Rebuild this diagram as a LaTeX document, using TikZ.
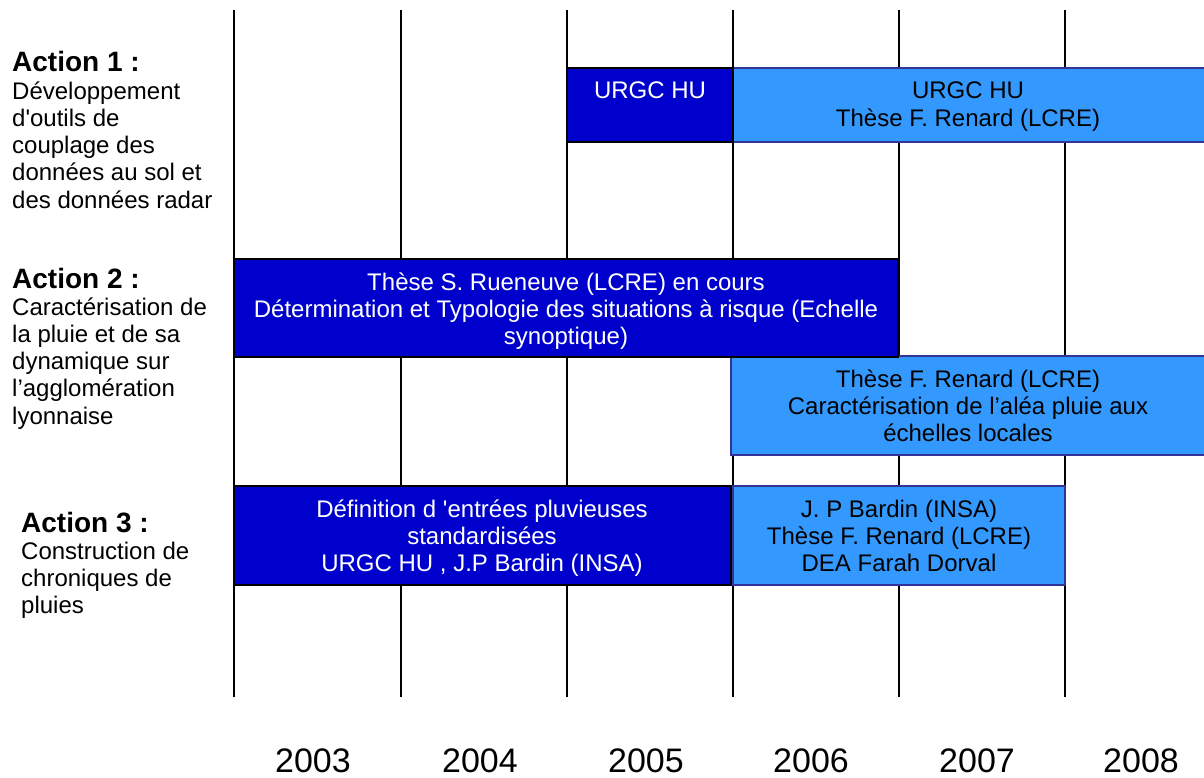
\documentclass[tikz,border=0pt]{standalone}
\usepackage{fontspec}
\setmainfont{Liberation Sans}
\definecolor{darkbar}{HTML}{0000CC}
\definecolor{lightbar}{HTML}{3399FF}
\definecolor{lightedge}{HTML}{333399}
\begin{document}
\begin{tikzpicture}[x=1pt, y=-1pt,
  txt/.style={font=\fontsize{24}{27.3}\selectfont, inner sep=0, anchor=base, align=center},
  title/.style={font=\fontsize{28}{30}\selectfont\bfseries, inner sep=0, anchor=base west},
  desc/.style={font=\fontsize{24}{27.3}\selectfont, inner sep=0, anchor=base west, align=left},
  darkbox/.style={fill=darkbar, draw=black, line width=2pt},
  lightbox/.style={fill=lightbar, draw=lightedge, line width=2pt},
  year/.style={font=\fontsize{34}{40}\selectfont, inner sep=0, anchor=base}]
\useasboundingbox (0,0) rectangle (1204,778);
% year grid
\foreach \x in {234,401,567,733,899,1065}
  \draw[line width=1.8pt] (\x,10) -- (\x,697);
\foreach \y/\x in {2003/313,2004/480,2005/646,2006/811,2007/977,2008/1141}
  \node[year] (y\y) at (\x,772) {\y};
% action 1 (base = last line)
\draw[lightbox] (733,68) rectangle (1210,142);
\draw[darkbox] (567,68) rectangle (733,142);
\node[txt, white] (u1) at (650,99) {URGC HU};
\node[txt] (u2) at (968,126.3) {URGC HU\\Thèse F. Renard (LCRE)};
% action 2
\draw[lightbox] (731,356) rectangle (1210,455);
\draw[darkbox] (234,259) rectangle (898,357);
\node[txt, white] (r1) at (566,344.6) {Thèse S. Rueneuve (LCRE) en cours\\Détermination et Typologie des situations à risque (Echelle\\synoptique)};
\node[txt] (r2) at (968,441.6) {Thèse F. Renard (LCRE)\\Caractérisation de l’aléa pluie aux\\échelles locales};
% action 3
\draw[lightbox] (733,486) rectangle (1065,585);
\draw[darkbox] (234,486) rectangle (731,585);
\node[txt, white] (c1) at (482,571.6) {Définition d \textquotesingle entrées pluvieuses\\standardisées\\URGC HU , J.P Bardin (INSA)};
\node[txt] (c2) at (899,571.6) {J. P Bardin (INSA)\\Thèse F. Renard (LCRE)\\DEA Farah Dorval};
% left column
\node[title] (a1) at (12,72) {Action 1 :};
\node[desc] (d1) at (12,208.2) {Développement\\d\textquotesingle outils de\\couplage des\\données au sol et\\des données radar};
\node[title] (a2) at (12,288) {Action 2 :};
\node[desc] (d2) at (12,424.2) {Caractérisation de\\la pluie et de sa\\dynamique sur\\l’agglomération\\lyonnaise};
\node[title] (a3) at (21,532) {Action 3 :};
\node[desc] (d3) at (21,613.6) {Construction de\\chroniques de\\pluies};
\end{tikzpicture}
\end{document}
